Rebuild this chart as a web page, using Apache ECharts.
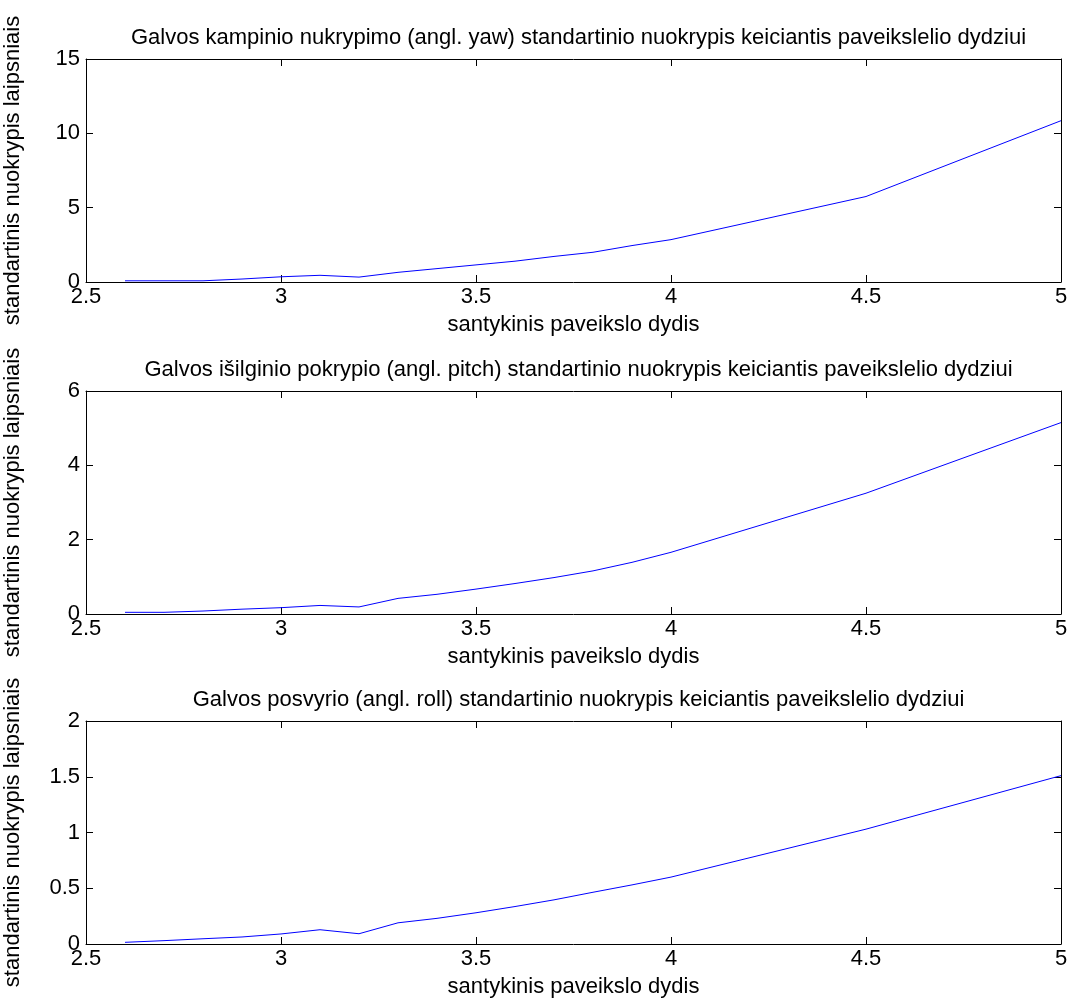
<!DOCTYPE html>
<html>
<head>
<meta charset="utf-8">
<script src="https://cdn.jsdelivr.net/npm/echarts@6/dist/echarts.min.js"></script>
<style>
html,body{margin:0;padding:0;background:#fff;}
#chart{width:1074px;height:1007px;}
</style>
</head>
<body>
<div id="chart"></div>
<script>
const xValues   = [2.6, 2.7, 2.8, 2.9, 3.0, 3.1, 3.2, 3.3, 3.4, 3.5, 3.6, 3.7, 3.8, 3.9, 4.0, 4.5, 5.0];
const yawStd    = [0.08, 0.08, 0.08, 0.2, 0.35, 0.45, 0.33, 0.65, 0.9, 1.15, 1.4, 1.72, 2.0, 2.45, 2.85, 5.75, 10.85];
const pitchStd  = [0.045, 0.045, 0.08, 0.13, 0.17, 0.23, 0.19, 0.42, 0.53, 0.67, 0.82, 0.98, 1.16, 1.39, 1.66, 3.25, 5.15];
const rollStd   = [0.015, 0.03, 0.047, 0.063, 0.09, 0.128, 0.092, 0.19, 0.23, 0.28, 0.336, 0.396, 0.464, 0.53, 0.6, 1.03, 1.51];

const titles = [
  'Galvos kampinio nukrypimo (angl. yaw) standartinio nuokrypis keiciantis paveikslelio dydziui',
  'Galvos išilginio pokrypio (angl. pitch) standartinio nuokrypis keiciantis paveikslelio dydziui',
  'Galvos posvyrio (angl. roll) standartinio nuokrypis keiciantis paveikslelio dydziui'
];
const xName = 'santykinis paveikslo dydis';
const yName = 'standartinis nuokrypis laipsniais';
const yRanges = [[0, 15, 5], [0, 6, 2], [0, 2, 0.5]];
const seriesData = [yawStd, pitchStd, rollStd];

const FONT = 'Liberation Sans, Arial, sans-serif';
const FS = 22;
const tops = [59, 391, 721];
const plotH = 223;
const gridLeft = 86, gridRight = 13;

const grids = [], xAxes = [], yAxes = [], series = [], titleArr = [];
const lineStyle = {color: '#000', width: 1};

tops.forEach((t, i) => {
  grids.push({left: gridLeft, right: gridRight, top: t, height: plotH,
    containLabel: false, outerBoundsMode: 'none'});
  titleArr.push({
    text: titles[i], left: (gridLeft + 1074 - gridRight) / 2, textAlign: 'center', top: t - 37,
    textStyle: {fontFamily: FONT, fontSize: FS, fontWeight: 'normal', color: '#000'}
  });
  xAxes.push({
    type: 'value', gridIndex: i, min: 2.5, max: 5, interval: 0.5, position: 'bottom',
    name: xName, nameLocation: 'middle', nameGap: 32,
    nameTextStyle: {fontFamily: FONT, fontSize: FS, color: '#000'},
    axisLine: {show: true, onZero: false, lineStyle},
    axisTick: {show: true, inside: true, length: 7, lineStyle},
    axisLabel: {fontFamily: FONT, fontSize: FS, color: '#000', margin: 4,
      formatter: v => String(v)},
    splitLine: {show: false}
  });
  xAxes.push({
    type: 'value', gridIndex: i, min: 2.5, max: 5, interval: 0.5, position: 'top',
    axisLine: {show: true, onZero: false, lineStyle},
    axisTick: {show: true, inside: true, length: 7, lineStyle},
    axisLabel: {show: false}, splitLine: {show: false}
  });
  const [ymin, ymax, yint] = yRanges[i];
  yAxes.push({
    type: 'value', gridIndex: i, min: ymin, max: ymax, interval: yint, position: 'left',
    name: yName, nameLocation: 'middle', nameGap: 62, nameRotate: 90,
    nameTextStyle: {fontFamily: FONT, fontSize: FS, color: '#000'},
    axisLine: {show: true, onZero: false, lineStyle},
    axisTick: {show: true, inside: true, length: 7, lineStyle},
    axisLabel: {fontFamily: FONT, fontSize: FS, color: '#000', margin: 6,
      formatter: v => String(v)},
    splitLine: {show: false}
  });
  yAxes.push({
    type: 'value', gridIndex: i, min: ymin, max: ymax, interval: yint, position: 'right',
    axisLine: {show: true, onZero: false, lineStyle},
    axisTick: {show: true, inside: true, length: 7, lineStyle},
    axisLabel: {show: false}, splitLine: {show: false}
  });
  series.push({
    type: 'line', xAxisIndex: i * 2, yAxisIndex: i * 2,
    data: xValues.map((x, k) => [x, seriesData[i][k]]),
    showSymbol: false, symbol: 'none',
    lineStyle: {color: '#0000ff', width: 1},
    animation: false
  });
});

const chart = echarts.init(document.getElementById('chart'));
chart.setOption({
  backgroundColor: '#fff',
  animation: false,
  title: titleArr,
  grid: grids,
  xAxis: xAxes,
  yAxis: yAxes,
  series: series
});
</script>
</body>
</html>
